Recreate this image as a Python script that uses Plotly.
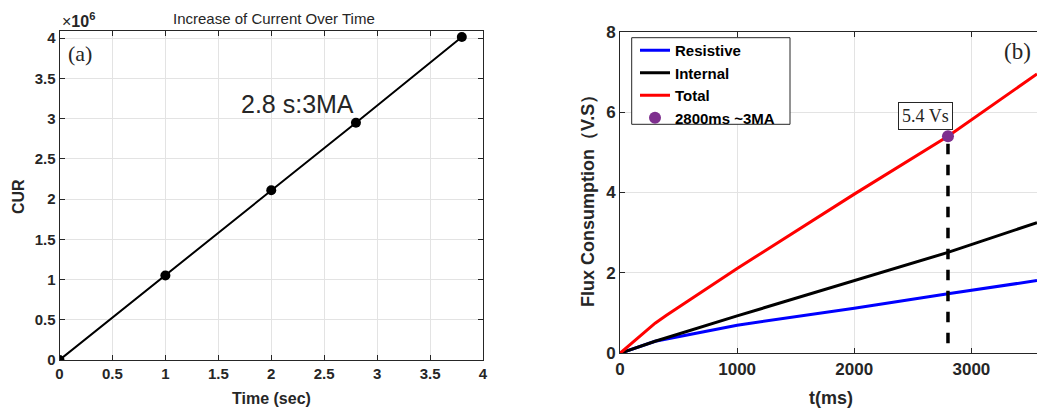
import plotly.graph_objects as go

W, H = 1037, 410

# ---- Panel (a) data ----
time_s = [0, 1, 2, 2.8, 3.8]
current_A = [0, 1.05e6, 2.11e6, 2.95e6, 4.015e6]
a_xticks = [0, 0.5, 1, 1.5, 2, 2.5, 3, 3.5, 4]
a_xticktext = ["0", "0.5", "1", "1.5", "2", "2.5", "3", "3.5", "4"]
a_yticks = [0, 0.5e6, 1e6, 1.5e6, 2e6, 2.5e6, 3e6, 3.5e6, 4e6]
a_yticktext = ["0", "0.5", "1", "1.5", "2", "2.5", "3", "3.5", "4"]

# ---- Panel (b) data ----
t_ms = [0, 300, 400, 1000, 2000, 2800, 3560]
total = [0, 0.75, 0.95, 2.11, 3.96, 5.4, 6.95]
t_ms2 = [0, 300, 1000, 2000, 2800, 3560]
internal = [0, 0.3, 0.93, 1.80, 2.51, 3.25]
resistive = [0, 0.3, 0.70, 1.12, 1.48, 1.81]
marker_t = [2800]
marker_flux = [5.4]
vline_t = [2800, 2800]
vline_flux = [0.25, 5.4]
b_xticks = [0, 1000, 2000, 3000]
b_xticktext = ["0", "1000", "2000", "3000"]
b_yticks = [0, 2, 4, 6, 8]
b_yticktext = ["0", "2", "4", "6", "8"]


def px_x(p):
    return p / W


def px_y(p):
    return 1 - p / H


def bold(lst):
    return ["<b>%s</b>" % s for s in lst]


fig = go.Figure()

fig.add_trace(go.Scatter(
    x=time_s, y=current_A, mode="lines+markers",
    line=dict(color="black", width=2),
    marker=dict(color="black", size=10),
    showlegend=False, xaxis="x", yaxis="y"))

fig.add_trace(go.Scatter(
    x=t_ms2, y=resistive, mode="lines", name="<b>Resistive</b>",
    line=dict(color="#0000FF", width=3), xaxis="x2", yaxis="y2"))
fig.add_trace(go.Scatter(
    x=t_ms2, y=internal, mode="lines", name="<b>Internal</b>",
    line=dict(color="black", width=3), xaxis="x2", yaxis="y2"))
fig.add_trace(go.Scatter(
    x=t_ms, y=total, mode="lines", name="<b>Total</b>",
    line=dict(color="#FF0000", width=3), xaxis="x2", yaxis="y2"))
fig.add_trace(go.Scatter(
    x=vline_t, y=vline_flux, mode="lines", showlegend=False,
    line=dict(color="black", width=3.5, dash="dash"), xaxis="x2", yaxis="y2"))
fig.add_trace(go.Scatter(
    x=marker_t, y=marker_flux, mode="markers", name="<b>2800ms ~3MA</b>",
    marker=dict(color="#7E2F8E", size=12), xaxis="x2", yaxis="y2"))

FONT = "Arial, Liberation Sans, sans-serif"
SERIF = "Times New Roman, Liberation Serif, serif"
TICKC = "#262626"
GRID = "#e3e3e3"

common = dict(showline=True, linecolor=TICKC, linewidth=1, ticks="inside",
              ticklen=5, tickcolor=TICKC, showgrid=True, gridcolor=GRID,
              gridwidth=1, zeroline=False, automargin=False)


def ann(text, xp, yp, size, family=FONT, **kw):
    d = dict(text=text, x=px_x(xp), y=px_y(yp), xref="paper", yref="paper",
             showarrow=False, xanchor="center", yanchor="middle",
             font=dict(size=size, family=family, color=TICKC))
    d.update(kw)
    return d


fig.update_layout(
    width=W, height=H,
    margin=dict(l=0, r=0, t=0, b=0, autoexpand=False),
    paper_bgcolor="white", plot_bgcolor="white",
    font=dict(family=FONT, color=TICKC),
    xaxis=dict(domain=[px_x(59.5), px_x(483)], range=[0, 4],
               tickvals=a_xticks, ticktext=bold(a_xticktext), mirror="allticks",
               tickfont=dict(size=15, family=FONT),
               anchor="y", **common),
    yaxis=dict(domain=[px_y(360), px_y(31)], range=[0, 4.09e6],
               tickvals=a_yticks, ticktext=bold(a_yticktext), mirror="allticks",
               tickfont=dict(size=15, family=FONT),
               anchor="x", **common),
    xaxis2=dict(domain=[px_x(620), 1.0], range=[0, 3560],
                tickvals=b_xticks, ticktext=bold(b_xticktext), mirror="allticks",
                tickfont=dict(size=17, family=FONT),
                anchor="y2", **common),
    yaxis2=dict(domain=[px_y(353.3), px_y(31.7)], range=[0, 8],
                tickvals=b_yticks, ticktext=bold(b_yticktext), mirror=False,
                tickfont=dict(size=17, family=FONT),
                anchor="x2", **common),
    legend=dict(x=px_x(635), y=px_y(34), xanchor="left", yanchor="top",
                bgcolor="rgba(0,0,0,0)", borderwidth=0,
                font=dict(size=15, family=FONT, color="black"),
                tracegroupgap=0, itemwidth=30),
    shapes=[
        dict(type="rect", xref="paper", yref="paper",
             x0=px_x(631.7), x1=px_x(790), y0=px_y(124.3), y1=px_y(37.7),
             fillcolor="white", line=dict(color=TICKC, width=1), layer="above"),
    ],
    annotations=[
        ann("Increase of Current Over Time", 273.5, 18, 15),
        ann("×<b>10</b><sup><b>6</b></sup>", 60, 20, 16, xanchor="left"),
        ann("(a)", 80.5, 53, 22, SERIF),
        ann("2.8 s:3MA", 297.5, 104, 25),
        ann("(b)", 1017, 51, 23, SERIF),
        ann("5.4 Vs", 925.5, 116, 18, SERIF, bgcolor="white",
            bordercolor=TICKC, borderwidth=1, borderpad=3),
        ann("<b>Time (sec)</b>", 271.5, 398, 16),
        ann("<b>CUR</b>", 18, 197, 16, textangle=-90),
        ann("<b>t(ms)</b>", 831, 398, 18),
        ann("<b>Flux Consumption（V.S）</b>", 588, 197, 18, textangle=-90),
    ],
)

fig.write_html("out.html", config={"displayModeBar": False},
               post_script="document.body.style.margin='0px';")
